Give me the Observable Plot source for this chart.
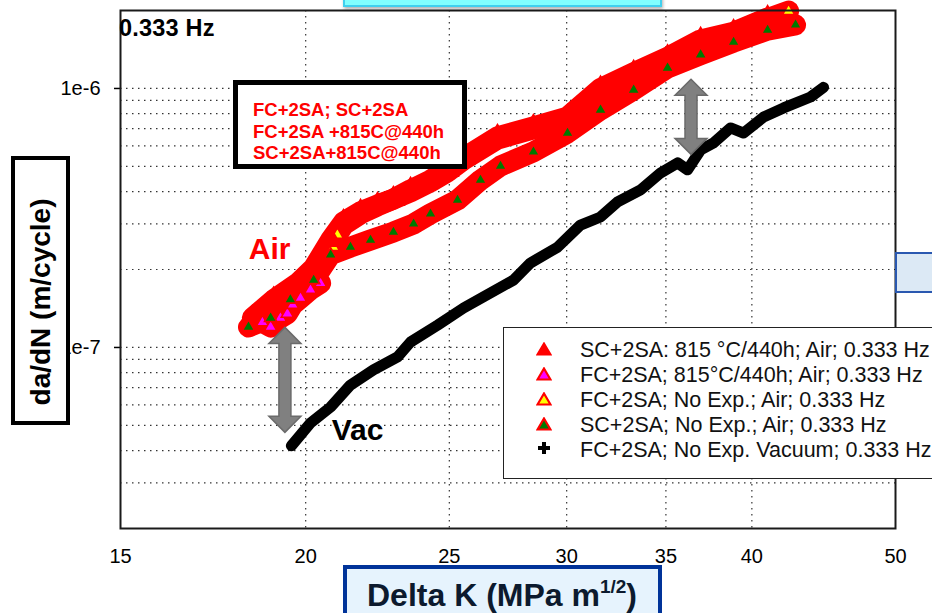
<!DOCTYPE html>
<html><head><meta charset="utf-8">
<script src="https://cdn.jsdelivr.net/npm/d3@7"></script>
<script src="https://cdn.jsdelivr.net/npm/@observablehq/plot@0.6"></script>
<style>
body{margin:0;background:#fff;font-family:"Liberation Sans",Arial,sans-serif}
#wrap{position:relative;width:932px;height:613px;overflow:hidden;background:#fff}
#wrap svg.chart{position:absolute;left:0;top:0}
.ov{position:absolute;box-sizing:border-box}
.lg{position:absolute;left:76px;font-size:21.5px;color:#111;white-space:nowrap;line-height:24px}
.mk{position:absolute;left:32px}
.an{position:absolute;left:15px;font-size:18.5px;font-weight:bold;color:#ff0000;white-space:nowrap;line-height:20px}
</style>
</head><body>
<div id="wrap">
  <div class="ov" style="left:343px;top:-40px;width:319px;height:47px;background:#80ffff;border:2px solid #40d0ee;box-shadow:1px 2px 3px rgba(0,0,0,0.3)"></div>
  <div class="ov" style="left:895px;top:252px;width:60px;height:41px;background:#dce9f5;border:2.5px solid #2a58b0"></div>
  <div class="ov" style="left:119px;top:15px;font-size:23.5px;font-weight:bold;color:#000;letter-spacing:0.2px">0.333 Hz</div>
  <div class="ov" style="left:233px;top:80px;width:234px;height:89px;border:5px solid #000;background:#fff">
    <div class="an" style="top:15px">FC+2SA; SC+2SA</div>
    <div class="an" style="top:37px">FC+2SA +815C@440h</div>
    <div class="an" style="top:58px">SC+2SA+815C@440h</div>
  </div>
  <div class="ov" style="left:11px;top:156px;width:59px;height:269px;border:4px solid #000;background:#fff"></div>
  <div class="ov" style="left:41px;top:302px;width:0;height:0">
    <div style="position:absolute;left:0;top:0;transform:translate(-50%,-50%) rotate(-90deg);font-size:28px;font-weight:bold;white-space:nowrap;color:#000">da/dN (m/cycle)</div>
  </div>
  <div class="ov" style="left:343px;top:565px;width:319px;height:70px;border:4px solid #003399;background:#e6f3fd"></div>
  <div class="ov" style="left:367px;top:576px;font-size:32px;font-weight:bold;color:#0c1a2e;white-space:nowrap;line-height:38px">Delta K (MPa m<sup style="font-size:19px;vertical-align:13px;line-height:0">1/2</sup>)</div>
  <div class="ov" id="legend" style="left:503px;top:327px;width:440px;height:152px;border:1.5px solid #222;background:#fff">
    <svg class="mk" style="top:14px" width="16" height="14"><path d="M8,1.5 L14.5,12.5 L1.5,12.5 Z" fill="#ff0000" stroke="#ff0000" stroke-width="2"/></svg>
    <div class="lg" style="top:10px">SC+2SA: 815 °C/440h; Air; 0.333 Hz</div>
    <svg class="mk" style="top:39px" width="16" height="14"><path d="M8,1.5 L14.5,12.5 L1.5,12.5 Z" fill="#ff00ff" stroke="#ff0000" stroke-width="2.2"/></svg>
    <div class="lg" style="top:35px">FC+2SA; 815°C/440h; Air; 0.333 Hz</div>
    <svg class="mk" style="top:64px" width="16" height="14"><path d="M8,1.5 L14.5,12.5 L1.5,12.5 Z" fill="#ffff00" stroke="#ff0000" stroke-width="2.2"/></svg>
    <div class="lg" style="top:60px">FC+2SA; No Exp.; Air; 0.333 Hz</div>
    <svg class="mk" style="top:89px" width="16" height="14"><path d="M8,1.5 L14.5,12.5 L1.5,12.5 Z" fill="#007a00" stroke="#ff0000" stroke-width="2.2"/></svg>
    <div class="lg" style="top:85px">SC+2SA; No Exp.; Air; 0.333 Hz</div>
    <svg class="mk" style="top:113px" width="16" height="14"><path d="M6,1 H10 V5 H14 V9 H10 V13 H6 V9 H2 V5 H6 Z" fill="#000"/></svg>
    <div class="lg" style="top:110px">FC+2SA; No Exp. Vacuum; 0.333 Hz</div>
  </div>
</div>
<script>
// ---- axis ticks ----
const xTicks = [15, 20, 25, 30, 35, 40, 50];
const xGrid = [20, 25, 30, 35, 40];
const yTicks = [1e-7, 1e-6];
const yTickLabels = ["1e-7", "1e-6"];
const yGrid = [2e-8,3e-8,4e-8,5e-8,6e-8,7e-8,8e-8,9e-8,1e-7,2e-7,3e-7,4e-7,5e-7,6e-7,7e-7,8e-7,9e-7,1e-6];

// ---- series: SC+2SA: 815 °C/440h; Air ----
const sc815DK   = [18.41,19.03,19.75,20.25,20.79,21.21,21.78,22.36,22.92,23.54,24.28,24.93,25.56,26.94,28.49,30.04,31.62,33.29,35.09,36.94,38.88,40.99];
const sc815Rate = [1.30e-7,1.53e-7,1.77e-7,2.03e-7,2.60e-7,3.05e-7,3.34e-7,3.55e-7,3.74e-7,4.06e-7,4.43e-7,4.85e-7,5.39e-7,6.50e-7,7.10e-7,7.76e-7,1.00e-6,1.15e-6,1.32e-6,1.54e-6,1.65e-6,1.87e-6];
// ---- FC+2SA; 815°C/440h; Air ----
const fc815DK   = [18.70,18.94,19.23,19.44,19.60,19.84,20.15,20.47];
const fc815Rate = [1.25e-7,1.20e-7,1.30e-7,1.35e-7,1.46e-7,1.55e-7,1.67e-7,1.77e-7];
// ---- FC+2SA; No Exp.; Air ----
const fcNoDK   = [20.88,21.01,21.21,21.78,22.36,22.92,23.54,24.28,24.93,25.56,26.94,28.49,30.04,31.62,33.29,35.09,36.94,38.88,40.99,42.35];
const fcNoRate = [2.44e-7,2.72e-7,2.97e-7,3.28e-7,3.52e-7,3.74e-7,3.99e-7,4.36e-7,4.76e-7,5.30e-7,6.38e-7,6.98e-7,7.63e-7,9.87e-7,1.13e-6,1.30e-6,1.51e-6,1.64e-6,1.86e-6,1.99e-6];
// ---- SC+2SA; No Exp.; Air ----
const scNoDK   = [18.30,18.94,19.53,20.25,20.79,21.44,22.12,22.92,23.65,24.28,25.32,26.24,27.07,28.49,30.04,31.62,33.29,35.09,36.94,38.88,40.99,42.81];
const scNoRate = [1.20e-7,1.30e-7,1.53e-7,1.82e-7,2.28e-7,2.44e-7,2.60e-7,2.79e-7,3.00e-7,3.28e-7,3.71e-7,4.43e-7,5.02e-7,5.69e-7,6.73e-7,8.26e-7,9.87e-7,1.20e-6,1.35e-6,1.51e-6,1.68e-6,1.76e-6];
// ---- FC+2SA; No Exp. Vacuum ----
const vacDK   = [19.56,20.15,20.79,21.44,22.22,23.07,23.54,24.55,25.56,26.37,27.62,28.36,29.58,30.65,31.62,32.47,33.65,34.71,35.64,36.20,36.94,37.69,38.70,39.49,40.74,42.02,43.82,44.71];
const vacRate = [4.17e-8,5.11e-8,5.89e-8,7.16e-8,8.19e-8,9.19e-8,1.05e-7,1.22e-7,1.42e-7,1.57e-7,1.82e-7,2.12e-7,2.44e-7,2.97e-7,3.19e-7,3.65e-7,4.06e-7,4.72e-7,5.16e-7,4.85e-7,5.79e-7,6.16e-7,7.04e-7,6.73e-7,7.76e-7,8.41e-7,9.27e-7,1.01e-6];

// ---- annotations (data space) ----
const airLabel = {dk: 18.91, rate: 2.40e-7, text: "Air"};
const vacLabel = {dk: 21.68, rate: 4.80e-8, text: "Vac"};
const gapArrows = [
  {dk: 19.38, top: 1.19e-7, bottom: 4.68e-8},
  {dk: 36.42, top: 1.08e-6, bottom: 5.54e-7}
];

const rows = (xs, ys) => xs.map((d, i) => ({dk: d, rate: ys[i]}));
const sc815 = rows(sc815DK, sc815Rate);
const fc815 = rows(fc815DK, fc815Rate);
const fcNo = rows(fcNoDK, fcNoRate);
const scNo = rows(scNoDK, scNoRate);
const vac = rows(vacDK, vacRate);

const band = {x: "dk", y: "rate", stroke: "#ff0000", strokeWidth: 21, strokeLinejoin: "round", strokeLinecap: "round"};
const tri = (fill, r = 4) => ({x: "dk", y: "rate", symbol: "triangle", r, fill, stroke: "#ff0000", strokeWidth: 1.6});

const chart = Plot.plot({
  width: 932, height: 613,
  marginLeft: 120, marginRight: 37, marginTop: 10, marginBottom: 85,
  x: {type: "log", domain: [15, 50]},
  y: {type: "log", domain: [2e-8, 2e-6]},
  style: {fontFamily: "Liberation Sans, Arial, sans-serif", fontSize: "20px", color: "#000", background: "transparent", overflow: "visible"},
  marks: [
    Plot.gridY(yGrid, {stroke: "#000", strokeOpacity: 0.8, strokeWidth: 1.2, strokeDasharray: "1.5,4.5"}),
    Plot.gridX(xGrid, {stroke: "#000", strokeOpacity: 0.8, strokeWidth: 1.2, strokeDasharray: "1.5,4.5"}),
    Plot.axisX(xTicks, {tickSize: 0, tickPadding: 20, fontSize: 20, tickFormat: d => String(d), label: null}),
    Plot.axisY(yTicks, {tickSize: 6, tickPadding: 14, fontSize: 20, strokeWidth: 1.5, tickFormat: d => yTickLabels[yTicks.indexOf(d)], label: null}),
    Plot.line(sc815, band),
    Plot.line(fcNo, band),
    Plot.line(scNo, band),
    Plot.line(fc815, band),
    Plot.dot(fcNo, tri("#ffff00", 4.5)),
    Plot.dot(sc815, tri("#ff0000", 8)),
    Plot.dot(fc815, tri("#ff00ff", 4.5)),
    Plot.dot(scNo, tri("#007a00", 4.5)),
    Plot.line(vac, {x: "dk", y: "rate", stroke: "#000", strokeWidth: 11, strokeLinejoin: "round", strokeLinecap: "round"}),
    Plot.dot(vac, {x: "dk", y: "rate", symbol: "plus", r: 7, fill: "#000"}),
    Plot.text([airLabel], {x: "dk", y: "rate", text: "text", fill: "#ff0000", fontSize: 30, fontWeight: "bold"}),
    Plot.text([vacLabel], {x: "dk", y: "rate", text: "text", fill: "#000", fontSize: 30, fontWeight: "bold"}),
    Plot.frame({stroke: "#1a1a1a", strokeWidth: 2})
  ]
});
chart.classList.add("chart");

// double-headed gray arrows positioned through the plot's scales
const sx = chart.scale("x"), sy = chart.scale("y");
const svg = d3.select(chart);
for (const a of gapArrows) {
  const cx = sx.apply(a.dk), yt = sy.apply(a.top), yb = sy.apply(a.bottom);
  const hw = 16, sw = 6, hh = 16;
  const pts = [[cx, yt], [cx + hw, yt + hh], [cx + sw, yt + hh], [cx + sw, yb - hh], [cx + hw, yb - hh], [cx, yb],
               [cx - hw, yb - hh], [cx - sw, yb - hh], [cx - sw, yt + hh], [cx - hw, yt + hh]];
  svg.append("path").attr("d", "M" + pts.map(p => p.join(",")).join("L") + "Z")
    .attr("fill", "#808080").attr("stroke", "#6a6a6a").attr("stroke-width", 1.5);
}

const wrap = document.getElementById("wrap");
wrap.insertBefore(chart, wrap.firstChild);
</script>
</body></html>
